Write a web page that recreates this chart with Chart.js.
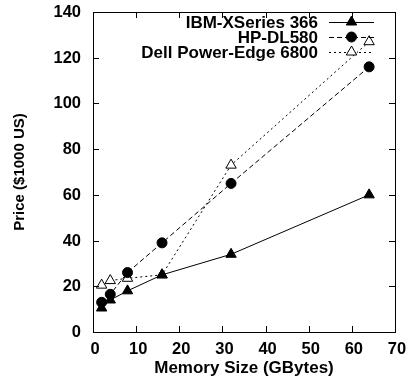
<!DOCTYPE html>
<html>
<head>
<meta charset="utf-8">
<script src="https://cdn.jsdelivr.net/npm/chart.js@4"></script>
<style>
  html, body { margin: 0; padding: 0; background: #fff; }
  #wrap { width: 407px; height: 381px; }
</style>
</head>
<body>
<div id="wrap"><canvas id="myChart" width="407" height="381"></canvas></div>
<script>
const memorySizes = [2, 4, 8, 16, 32, 64];
const ibmPrices = [10.5, 14, 18, 25, 34, 60];
const hpPrices = [13, 16.5, 26, 39, 65, 116];
const dellPrices = [20.5, 22.5, 23.5, 25, 73, 127];
const seriesNames = ["IBM-XSeries 366", "HP-DL580", "Dell Power-Edge 6800"];
const xTicks = [0, 10, 20, 30, 40, 50, 60, 70];
const yTicks = [0, 20, 40, 60, 80, 100, 120, 140];

const FONT = "'Liberation Sans', Arial, sans-serif";

Chart.defaults.font.family = FONT;
Chart.defaults.font.weight = "bold";
Chart.defaults.color = "#000";

function points(values) {
  return memorySizes.map((x, i) => ({ x: x, y: values[i] }));
}

const styles = [
  { dash: [], point: "triangle", fill: "#000", radius: 6 },
  { dash: [5, 3], point: "circle", fill: "#000", radius: 5 },
  { dash: [2, 3], point: "triangle", fill: "#fff", radius: 6 },
];

const datasets = [ibmPrices, hpPrices, dellPrices].map((values, i) => ({
  label: seriesNames[i],
  data: points(values),
  borderColor: "#000",
  borderWidth: 1,
  borderDash: styles[i].dash,
  pointStyle: styles[i].point,
  pointRadius: styles[i].radius,
  pointBackgroundColor: styles[i].fill,
  pointBorderColor: "#000",
  pointBorderWidth: 1,
  tension: 0,
  clip: false,
}));

function drawMarker(ctx, style, x, y) {
  ctx.save();
  ctx.setLineDash([]);
  ctx.fillStyle = style.fill;
  ctx.strokeStyle = "#000";
  ctx.lineWidth = 1;
  ctx.beginPath();
  if (style.point === "circle") {
    ctx.arc(x, y, style.radius, 0, Math.PI * 2);
  } else {
    const r = style.radius;
    const h = r * 0.866;
    ctx.moveTo(x, y - r);
    ctx.lineTo(x + h, y + r * 0.5);
    ctx.lineTo(x - h, y + r * 0.5);
    ctx.closePath();
  }
  ctx.fill();
  ctx.stroke();
  ctx.restore();
}

// gnuplot-like frame: border, inward mirrored ticks, tick labels
const framePlugin = {
  id: "frame",
  afterDraw(chart) {
    const { ctx, chartArea: a, scales } = chart;
    ctx.save();
    ctx.strokeStyle = "#000";
    ctx.lineWidth = 1;
    ctx.setLineDash([]);
    ctx.strokeRect(Math.round(a.left) + 0.5, Math.round(a.top) + 0.5,
      Math.round(a.right - a.left), Math.round(a.bottom - a.top));
    const len = 6;
    ctx.beginPath();
    xTicks.forEach((v) => {
      const px = Math.round(scales.x.getPixelForValue(v)) + 0.5;
      ctx.moveTo(px, a.bottom);
      ctx.lineTo(px, a.bottom - len);
      ctx.moveTo(px, a.top);
      ctx.lineTo(px, a.top + len);
    });
    yTicks.forEach((v) => {
      const py = Math.round(scales.y.getPixelForValue(v)) + 0.5;
      ctx.moveTo(a.left, py);
      ctx.lineTo(a.left + len, py);
      ctx.moveTo(a.right, py);
      ctx.lineTo(a.right - len, py);
    });
    ctx.stroke();

    ctx.fillStyle = "#000";
    ctx.font = "bold 16.5px " + FONT;
    ctx.textBaseline = "middle";
    ctx.textAlign = "right";
    yTicks.forEach((v) => {
      ctx.fillText(String(v), a.left - 12, scales.y.getPixelForValue(v) + 0.5);
    });
    ctx.textAlign = "center";
    xTicks.forEach((v) => {
      ctx.fillText(String(v), scales.x.getPixelForValue(v) + 2, a.bottom + 17);
    });
    ctx.restore();
  },
};

const legendPlugin = {
  id: "keyBox",
  afterDatasetsDraw(chart) {
    const { ctx, chartArea: a } = chart;
    const textRight = a.right - 77;
    const lineStart = a.right - 66;
    const lineEnd = a.right - 21;
    ctx.save();
    ctx.font = "bold 17px " + FONT;
    ctx.textAlign = "right";
    ctx.textBaseline = "middle";
    ctx.fillStyle = "#000";
    seriesNames.forEach((name, i) => {
      const y = a.top + 10 + i * 15;
      ctx.fillText(name, textRight, y + 1);
      ctx.beginPath();
      ctx.setLineDash(styles[i].dash);
      ctx.lineWidth = 1;
      ctx.strokeStyle = "#000";
      ctx.moveTo(lineStart, y + 0.5);
      ctx.lineTo(lineEnd, y + 0.5);
      ctx.stroke();
      drawMarker(ctx, styles[i], (lineStart + lineEnd) / 2, y);
    });
    ctx.restore();
  },
};

const config = {
  type: "line",
  data: { datasets: datasets },
  options: {
    responsive: false,
    animation: false,
    layout: { padding: { top: 12, right: 12, left: 0, bottom: 0 } },
    plugins: {
      legend: { display: false },
      tooltip: { enabled: false },
    },
    scales: {
      x: {
        type: "linear",
        min: 0,
        max: 70,
        afterFit: (scale) => {
          scale.height = 49;
        },
        grid: { display: false, drawTicks: false },
        border: { display: false },
        ticks: { display: false },
        title: {
          display: true,
          text: "Memory Size (GBytes)",
          color: "#000",
          padding: { top: 0, bottom: 2 },
          font: { family: FONT, size: 17, weight: "bold" },
        },
      },
      y: {
        type: "linear",
        min: 0,
        max: 140,
        afterFit: (scale) => {
          scale.width = 93;
        },
        grid: { display: false, drawTicks: false },
        border: { display: false },
        ticks: { display: false },
        title: {
          display: true,
          text: "Price ($1000 US)",
          color: "#000",
          padding: { top: 11, bottom: 0 },
          font: { family: FONT, size: 15, weight: "bold" },
        },
      },
    },
  },
  plugins: [legendPlugin, framePlugin],
};

new Chart(document.getElementById("myChart"), config);
</script>
</body>
</html>
